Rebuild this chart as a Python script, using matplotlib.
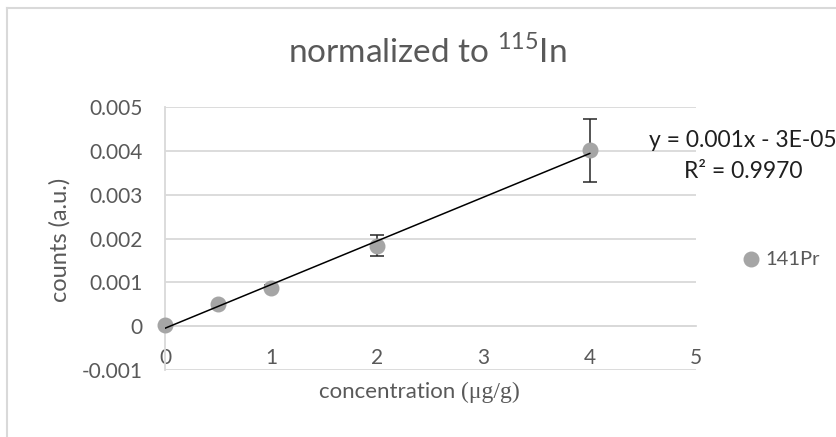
import numpy as np
import matplotlib
matplotlib.use("Agg")
import matplotlib.pyplot as plt
from matplotlib.lines import Line2D
from matplotlib.offsetbox import TextArea, HPacker, AnnotationBbox

plt.rcParams['font.family'] = ['Lato', 'DejaVu Sans']
plt.rcParams['mathtext.fontset'] = 'custom'
plt.rcParams['mathtext.rm'] = 'Lato'

# data
conc = [0, 0.5, 1, 2, 4]
counts = [0.00002, 0.00050, 0.00088, 0.00183, 0.00401]
err_low = [0.0, 0.00002, 0.00006, 0.00023, 0.00071]
err_high = [0.0, 0.00002, 0.00006, 0.00024, 0.00071]
yticks = [-0.001, 0, 0.001, 0.002, 0.003, 0.004, 0.005]
ytick_labels = ["-0.001", "0", "0.001", "0.002", "0.003", "0.004", "0.005"]
xticks = [0, 1, 2, 3, 4, 5]
series_name = "141Pr"

txt = '#595959'
grid = '#d9d9d9'
W, H = 837, 437

fig = plt.figure(figsize=(W / 100, H / 100), dpi=100)
ax = fig.add_axes([165 / W, 1 - 370 / H, (696 - 165) / W, (370 - 107) / H])

ax.set_xlim(0, 5)
ax.set_ylim(-0.001, 0.005)
ax.set_yticks(yticks)
ax.set_yticklabels(ytick_labels)
ax.set_xticks(xticks)
ax.yaxis.grid(True, color=grid, lw=1.3)
ax.set_axisbelow(True)
for s in ['top', 'right']:
    ax.spines[s].set_visible(False)
ax.spines['left'].set_color(grid)
ax.spines['left'].set_linewidth(1.3)
ax.spines['bottom'].set_position(('data', 0))
ax.spines['bottom'].set_color(grid)
ax.spines['bottom'].set_linewidth(1.3)
ax.tick_params(axis='y', length=0, pad=16, labelsize=15, labelcolor=txt)
ax.tick_params(axis='x', length=0, pad=16, labelsize=15, labelcolor=txt)

ax.errorbar(conc, counts, yerr=[err_low, err_high], fmt='none',
            ecolor='#262626', elinewidth=1.1, capsize=5, capthick=1.1, zorder=2)
ax.scatter(conc, counts, s=110, color='#a5a5a5', zorder=3, label=series_name,
           clip_on=False)

# linear trendline
slope, icpt = np.polyfit(conc, counts, 1)
xf = np.array([min(conc), max(conc)])
ax.plot(xf, slope * xf + icpt, color='black', lw=1.1, zorder=4)

leg = ax.legend(loc='center left', bbox_to_anchor=(741 / W, 1 - 259 / H),
                bbox_transform=fig.transFigure, frameon=False, fontsize=14.5,
                handlelength=1.0, handletextpad=0.2, borderpad=0,
                borderaxespad=0)
for t in leg.get_texts():
    t.set_color(txt)

fig.text(743 / W, 1 - 140 / H, "y = 0.001x - 3E-05", ha='center', va='center',
         fontsize=16.5, color='#1f1f1f')
fig.text(743 / W, 1 - 171 / H, "R² = 0.9970", ha='center', va='center',
         fontsize=16.5, color='#1f1f1f')

fig.text(427 / W, 1 - 52 / H, r"normalized to $^{\mathrm{115}}$In", ha='center',
         va='center', fontsize=24, color=txt)
fig.text(60 / W, 1 - 240 / H, "counts (a.u.)", rotation=90, ha='center',
         va='center', fontsize=17, color=txt)

t1 = TextArea("concentration ", textprops=dict(fontsize=16, color=txt))
t2 = TextArea("(μg/g)", textprops=dict(fontsize=17, color=txt,
                                       family='Liberation Serif'))
pack = HPacker(children=[t1, t2], align='baseline', pad=0, sep=0)
ab = AnnotationBbox(pack, (419 / W, 1 - 392 / H), xycoords='figure fraction',
                    frameon=False, box_alignment=(0.5, 0.5))
fig.add_artist(ab)

# chart frame (only top and left edges visible)
fig.add_artist(Line2D([7 / W, 1], [1 - 8 / H, 1 - 8 / H], color=grid, lw=1.5))
fig.add_artist(Line2D([7 / W, 7 / W], [1 - 8 / H, 0], color=grid, lw=1.5))

fig.savefig("out.png", dpi=100)
